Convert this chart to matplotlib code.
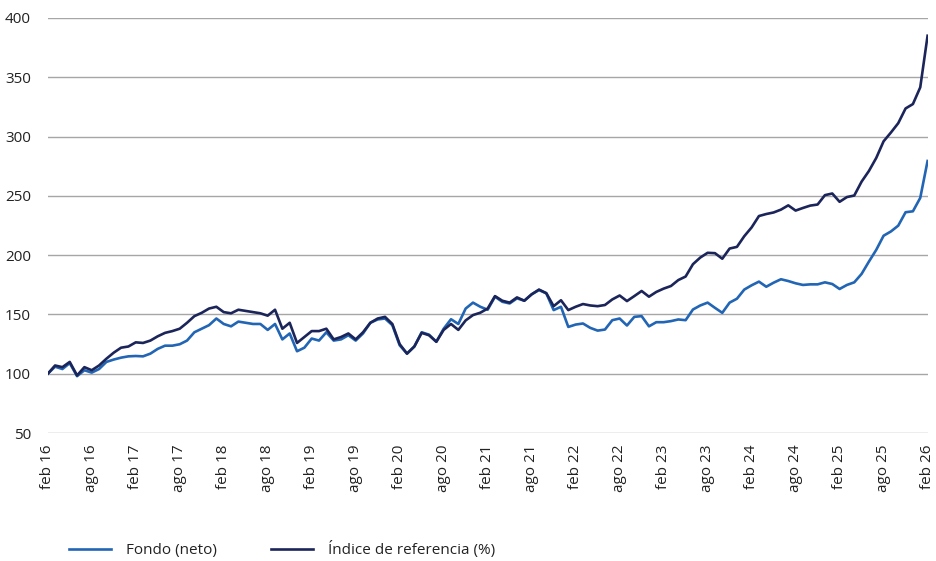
import numpy as np
import matplotlib.pyplot as plt

plt.rcParams['font.family'] = ['Open Sans', 'DejaVu Sans']

# monthly values, feb 16 .. feb 26 (121 points)
fondo = [100, 106, 104, 109, 98, 103, 101, 104, 110, 112, 113.6, 114.7, 115, 114.7, 117, 121,
         123.7, 123.7, 124.9, 128, 135, 138, 141, 146.6, 142, 140, 144, 143, 142, 142,
         137, 142, 129, 134, 119, 122, 129.7, 128, 135, 128, 129, 132.5, 128, 134, 143,
         145.8, 146.6, 141, 124, 117, 123, 135, 133, 127, 138, 146, 142, 155, 160, 156.5,
         154, 165, 160.7, 159.3, 163.6, 161.6, 167, 170.6, 167.8, 153.7, 156.5, 139.5,
         141.5, 142.4, 138.7, 136.4, 137.3, 145.2, 146.6, 140.7, 148, 148.6, 140, 143.5,
         143.5, 144.4, 145.8, 145.2, 154.2, 157.6, 160, 155.6, 151.4, 160, 163.3, 171,
         174.6, 177.7, 173.4, 176.8, 179.7, 178.2, 176.3, 174.9, 175.4, 175.4, 177.1,
         175.7, 171.5, 174.9, 177.1, 184.2, 194.6, 204.5, 216.4, 220, 224.9, 236.2, 237,
         248.3, 279.4]
indice = [100, 107, 105.6, 110, 98.6, 105.6, 103, 107, 112.7, 117.8, 122, 123, 126.5, 126,
          128, 131.6, 134.5, 136, 138, 143, 148.6, 151.4, 155, 156.5, 152, 151, 154, 153,
          152, 151, 149, 154, 138, 143, 126, 131, 136, 136, 138, 129, 131, 134, 129, 135,
          143, 146.6, 148, 142, 125, 117, 123, 134.5, 132.5, 127, 137, 142, 137, 145,
          149.5, 151.5, 155, 165.5, 161.6, 160, 164.4, 161.6, 167, 171, 168, 157, 162,
          153.7, 156.5, 158.8, 157.6, 157, 158, 162.7, 166, 161.3, 165.5, 169.8, 165, 169,
          171.8, 174, 179, 182, 192.4, 198, 202, 201.7, 197, 205.6, 207, 216, 223.4, 233,
          234.7, 236, 238.4, 242, 237.6, 239.8, 241.8, 242.7, 250.6, 252, 245, 249, 250.3,
          262, 271, 282, 296, 303.4, 311.3, 323.7, 327.4, 341.5, 385]
tick_labels = ['feb 16', 'ago 16', 'feb 17', 'ago 17', 'feb 18', 'ago 18', 'feb 19',
               'ago 19', 'feb 20', 'ago 20', 'feb 21', 'ago 21', 'feb 22', 'ago 22',
               'feb 23', 'ago 23', 'feb 24', 'ago 24', 'feb 25', 'ago 25', 'feb 26']
y_ticks = [50, 100, 150, 200, 250, 300, 350, 400]

x = np.arange(len(fondo))

fig = plt.figure(figsize=(9.36, 5.61), dpi=100)
ax = fig.add_axes([0.051, 0.228, 0.94, 0.74])

ax.plot(x, fondo, color='#2165b4', lw=1.9, label='Fondo (neto)', zorder=3)
ax.plot(x, indice, color='#1b2559', lw=1.9, label='Índice de referencia (%)', zorder=3)

ax.set_xlim(0, 120)
ax.set_ylim(50, 400)
ax.set_yticks(y_ticks)
ax.set_xticks(np.arange(0, 121, 6))
ax.set_xticklabels(tick_labels, rotation=90)
ax.tick_params(length=0, labelsize=11, colors='#222222')
ax.tick_params(axis='y', pad=12)
ax.tick_params(axis='x', pad=8)
ax.grid(axis='y', color='#a6a6a6', lw=1)
for s in ax.spines.values():
    s.set_visible(False)

fig.legend(loc='lower left', bbox_to_anchor=(0.059, -0.02), ncol=2, frameon=False,
           fontsize=11, handlelength=2.75, handletextpad=1.0, columnspacing=3.5,
           labelcolor='#222222')

plt.savefig('out.png', dpi=100)
